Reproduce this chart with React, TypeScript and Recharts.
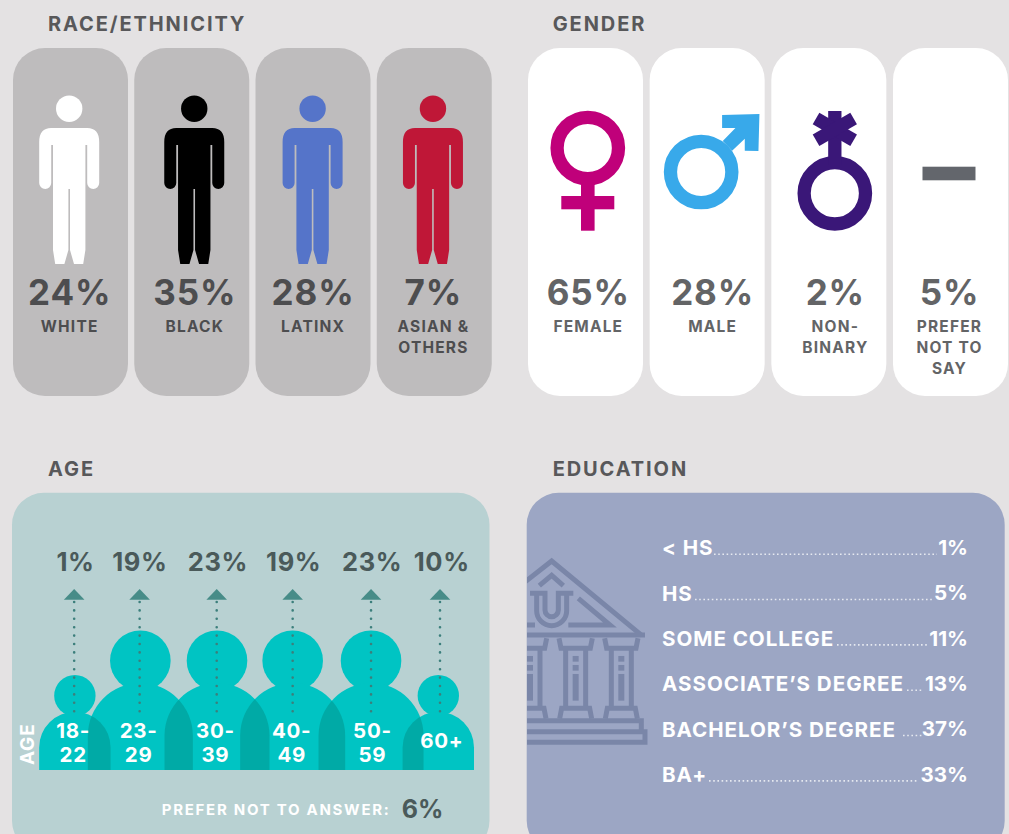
// App.tsx
import React from 'react';
import { BarChart, Bar, XAxis, YAxis } from 'recharts';

const raceCategories = ['WHITE', 'BLACK', 'LATINX', 'ASIAN &\nOTHERS'];
const raceShares = [24, 35, 28, 7];
const genderCategories = ['FEMALE', 'MALE', 'NON-\nBINARY', 'PREFER\nNOT TO\nSAY'];
const genderShares = [65, 28, 2, 5];
const ageCategories = ['18-\n22', '23-\n29', '30-\n39', '40-\n49', '50-\n59', '60+'];
const ageShares = [1, 19, 23, 19, 23, 10];
const agePreferNot = 6;
const educationCategories = ['< HS', 'HS', 'SOME COLLEGE', 'ASSOCIATE\u2019S DEGREE', 'BACHELOR\u2019S DEGREE', 'BA+'];
const educationShares = [1, 5, 11, 13, 37, 33];

const FONT = 'Inter, sans-serif';
const BG = '#e4e2e3';

// the artwork is not evenly spaced, these are small offsets from the band centres
const raceNudge = [-1.3, 2.5, -0.4, -1.3];
const raceColors = ['#ffffff', '#000000', '#5574c9', '#bf1737'];
const genderNudge = [2.3, 5, 6, -1.5];
const ageNudge = [-0.5, -7.7, -3.3, 0, 5.7, 2];
const domeShift = [0.7, 0.7, 0.3, 0, 0, -1.7];
const ageLabelShift = [-1, -1, -1.3, -1, 1.4, 1.7];
const agePctShift = [1.4, 0.2, 1.2, 1, 1.2, 1.7];
const leaderStart = [714, 695, 837, 907, 903, 709];
const leaderEnd = [937, 933, 928, 923, 923, 919];

const toRows = (names: string[], shares: number[]) => names.map((name, i) => ({ name, share: shares[i] }));

const Person = ({ cx, color }: any) => (
  <g transform={`translate(${cx},128)`} fill={color}>
    <circle cx={0} cy={-19.3} r={13.2} />
    <path d="M-18 0H18Q30 0 30 14V55A6 6 0 0 1 18 55V17H16.2V122L14 136H4.8L0.8 122V61H-0.8V122L-4.8 136H-14L-16.2 122V17H-18V55A6 6 0 0 1 -30 55V14Q-30 0 -18 0Z" />
  </g>
);

const CardText = ({ cx, share, name, color }: any) => (
  <g textAnchor="middle" fontFamily={FONT} fill={color}>
    <text x={cx + 0.5} y={305} fontSize={35} fontWeight={700} letterSpacing={0.9}>{share}%</text>
    {name.split('\n').map((line: string, i: number) => (
      <text key={line} x={cx + 0.5} y={332 + i * 21} fontSize={15.5} fontWeight={700} letterSpacing={1.2}>{line}</text>
    ))}
  </g>
);

const RaceCard = (props: any) => {
  const cx = props.x + props.width / 2 + raceNudge[props.index];
  return (
    <g transform="translate(0,-48)">
      <Person cx={cx} color={raceColors[props.index]} />
      <CardText cx={cx} share={props.payload.share} name={props.payload.name} color="#4d4d4f" />
    </g>
  );
};

const GenderIcon = ({ cx, index }: any) => {
  if (index === 0) {
    return (
      <g fill="#c0007a">
        <circle cx={cx} cy={148} r={30.7} fill="none" stroke="#c0007a" strokeWidth={13.3} />
        <rect x={cx - 6.8} y={180} width={13.6} height={50.7} />
        <rect x={cx - 26.5} y={196} width={53} height={13.3} />
      </g>
    );
  }
  if (index === 1) {
    return (
      <g>
        <circle cx={cx - 11} cy={172} r={30.7} fill="none" stroke="#38a9ea" strokeWidth={13.3} />
        <path
          transform={`translate(${cx - 202.7},0) scale(0.3333)`}
          fill="#38a9ea"
          d="M638 345L750 342L747 453L706 452L706 416L668 452L640 423L678 384L638 384Z"
        />
      </g>
    );
  }
  if (index === 2) {
    return (
      <g stroke="#3a1778" strokeWidth={13.3}>
        <circle cx={cx} cy={193.3} r={30.7} fill="none" />
        <line x1={cx} y1={111} x2={cx} y2={165} />
        <line x1={cx - 18.8} y1={118.5} x2={cx + 18.8} y2={140.2} />
        <line x1={cx + 18.8} y1={118.5} x2={cx - 18.8} y2={140.2} />
      </g>
    );
  }
  return <rect x={cx - 26.5} y={166.7} width={53} height={13.6} fill="#63666c" />;
};

const GenderCard = (props: any) => {
  const cx = props.x + props.width / 2 + genderNudge[props.index];
  return (
    <g transform="translate(0,-48)">
      <GenderIcon cx={cx} index={props.index} />
      <CardText cx={cx} share={props.payload.share} name={props.payload.name} color="#636466" />
    </g>
  );
};

// chart sits at x 12 / y 540, figures are drawn in page coordinates inside a group
const AGE_STEP = 72.66;
const AGE_BASE = 770;
const domePath = (cx: number, hw: number, top: number) =>
  `M${cx - hw} ${AGE_BASE}V${top + hw}A${hw} ${hw} 0 0 1 ${cx + hw} ${top + hw}V${AGE_BASE}Z`;
const figureSize = (share: number) =>
  share <= 10 ? { hw: 35.7, top: 711.7, headY: 695.7, headR: 20.7 } : { hw: 52.5, top: 683, headY: 660.7, headR: 30.3 };

const AgeFigure = (props: any) => {
  const i = props.index;
  const centre = props.x + props.width / 2 + 12;
  const cx = centre + ageNudge[i] + domeShift[i];
  const size = figureSize(props.payload.share);
  const own = domePath(cx, size.hw, size.top);
  let overlap = null;
  if (i > 0) {
    const prevSize = figureSize(ageShares[i - 1]);
    const prevX = centre - AGE_STEP + ageNudge[i - 1] + domeShift[i - 1];
    overlap = (
      <>
        <clipPath id={`age-clip-${i}`}>
          <path d={domePath(prevX, prevSize.hw, prevSize.top)} />
        </clipPath>
        <path d={own} fill="#00aaa6" clipPath={`url(#age-clip-${i})`} />
      </>
    );
  }
  return (
    <g transform="translate(-12,-540)">
      <circle cx={cx} cy={size.headY} r={size.headR} fill="#00c4c3" />
      <path d={own} fill="#00c4c3" />
      {overlap}
    </g>
  );
};

const AgeMarks = (props: any) => {
  const i = props.index;
  const centre = props.x + props.width / 2 + 12;
  const ax = centre + ageNudge[i];
  const lines = props.payload.name.split('\n');
  const lx = ax + ageLabelShift[i];
  return (
    <g transform="translate(-12,-540)" fontFamily={FONT} textAnchor="middle">
      <text x={ax + agePctShift[i]} y={570.7} fontSize={25.5} fontWeight={700} fill="#4a5a5a" letterSpacing={0.6}>{props.payload.share}%</text>
      <path d={`M${ax} 589L${ax + 10.3} 599.7H${ax - 10.3}Z`} fill="#478c88" />
      <line x1={ax} y1={602} x2={ax} y2={713} stroke="#3c7f7c" strokeWidth={2.6} strokeLinecap="round" strokeDasharray="0 8.4" />
      {lines.length === 1 ? (
        <text x={lx} y={748.3} fontSize={20.5} fontWeight={700} fill="#ffffff" letterSpacing={0.7}>{lines[0]}</text>
      ) : (
        <>
          <text x={lx} y={737.5} fontSize={20.5} fontWeight={700} fill="#ffffff" letterSpacing={0.7}>{lines[0]}</text>
          <text x={lx} y={762} fontSize={20.5} fontWeight={700} fill="#ffffff" letterSpacing={0.7}>{lines[1]}</text>
        </>
      )}
    </g>
  );
};

const EducationTick = (props: any) => (
  <text x={135} y={props.y + 7.5} fontFamily={FONT} fontSize={20.6} fontWeight={700} fill="#ffffff" letterSpacing={0.95}>
    {props.payload.value}
  </text>
);

const EducationLeader = (props: any) => {
  const i = props.index;
  const base = props.y + props.height / 2 + 7.5;
  return (
    <g>
      <line
        x1={leaderStart[i] - 527}
        x2={leaderEnd[i] - 527}
        y1={base - 0.8}
        y2={base - 0.8}
        stroke="#ffffff"
        strokeOpacity={0.75}
        strokeWidth={1.6}
        strokeDasharray="1.6 2.6"
      />
      <text x={441} y={base} textAnchor="end" fontFamily={FONT} fontSize={20.6} fontWeight={700} fill="#ffffff">
        {props.payload.share}%
      </text>
    </g>
  );
};

const columnCentres = [60, 197, 334];

const Building = () => (
  <g transform="translate(-17,-75) scale(0.3333)" fill="none" stroke="#7a86a8" strokeWidth={15}>
    <path d="M40 400L125 333L395 556" />
    <path d="M88 407L125 376L160 407" />
    <path d="M60 430H105V480A20 20 0 0 0 145 480V430H190" />
    <path d="M80 435V482A45 45 0 0 0 170 482V435" />
    <path d="M205 445L300 525H175" />
    <path d="M40 525H75" />
    <path d="M40 555H405" />
    {columnCentres.map((c) => (
      <g key={c}>
        <path d={`M${c - 50} 565L${c - 44} 595H${c + 44}L${c + 50} 565`} />
        <path d={`M${c - 30} 600V770M${c + 30} 600V770`} />
        <rect x={c - 9} y={618} width={18} height={17} fill="#7a86a8" stroke="none" />
        <rect x={c - 9} y={645} width={18} height={17} fill="#7a86a8" stroke="none" />
        <rect x={c - 9} y={672} width={18} height={80} fill="#7a86a8" stroke="none" />
        <path d={`M${c - 48} 806L${c - 42} 775H${c + 42}L${c + 48} 806`} />
      </g>
    ))}
    <path d="M40 812H394V845" />
    <path d="M40 845H405V877H40" />
  </g>
);

export default function App() {
  const raceData = toRows(raceCategories, raceShares);
  const genderData = toRows(genderCategories, genderShares);
  const ageData = toRows(ageCategories, ageShares);
  const educationData = toRows(educationCategories, educationShares);

  return (
    <div style={{ position: 'fixed', left: 0, top: 0, width: 1009, height: 834, overflow: 'hidden', background: BG }}>
      <svg width={1009} height={834} style={{ position: 'absolute', left: 0, top: 0 }}>
        <rect x={12} y={492.7} width={477.5} height={360} rx={32} fill="#b8d1d2" />
        <rect x={526.7} y={492.7} width={478} height={360} rx={32} fill="#9ca6c4" />
        <g fontFamily={FONT} fontSize={20} fontWeight={700} fill="#58585a" letterSpacing={1.9}>
          <text x={48} y={31}>RACE/ETHNICITY</text>
          <text x={552.7} y={31}>GENDER</text>
          <text x={48} y={475.7}>AGE</text>
          <text x={552.7} y={475.7}>EDUCATION</text>
        </g>
      </svg>

      <div style={{ position: 'absolute', left: 10, top: 48 }}>
        <BarChart width={485} height={348} data={raceData} margin={{ top: 0, right: 0, bottom: 0, left: 0 }}>
          <XAxis dataKey="name" hide />
          <YAxis hide domain={[0, 100]} />
          <Bar
            dataKey="share"
            barSize={115}
            background={{ fill: '#bebcbd', radius: 32 }}
            shape={RaceCard}
            isAnimationActive={false}
          />
        </BarChart>
      </div>

      <div style={{ position: 'absolute', left: 525.3, top: 48 }}>
        <BarChart width={486.67} height={348} data={genderData} margin={{ top: 0, right: 0, bottom: 0, left: 0 }}>
          <XAxis dataKey="name" hide />
          <YAxis hide domain={[0, 100]} />
          <Bar
            dataKey="share"
            barSize={115}
            background={{ fill: '#ffffff', radius: 32 }}
            shape={GenderCard}
            isAnimationActive={false}
          />
        </BarChart>
      </div>

      <div style={{ position: 'absolute', left: 12, top: 540 }}>
        <BarChart width={477.5} height={294} data={ageData} margin={{ top: 0, right: 14.83, bottom: 0, left: 26.67 }}>
          <XAxis dataKey="name" hide />
          <YAxis hide domain={[0, 100]} />
          <Bar dataKey="share" stackId="age" barSize={70} shape={AgeFigure} isAnimationActive={false} />
          <Bar dataKey="share" stackId="age" barSize={70} shape={AgeMarks} isAnimationActive={false} />
          <text
            transform="translate(22.3,204.3) rotate(-90)"
            textAnchor="middle"
            fontFamily={FONT}
            fontSize={19}
            fontWeight={700}
            fill="#ffffff"
            letterSpacing={0.8}
          >
            AGE
          </text>
          <text x={149.7} y={275.3} fontFamily={FONT} fontSize={15} fontWeight={700} fill="#ffffff" letterSpacing={1.72}>
            PREFER NOT TO ANSWER:
          </text>
          <text x={389.7} y={278.3} fontFamily={FONT} fontSize={25} fontWeight={700} fill="#4a5a5a">
            {agePreferNot}%
          </text>
        </BarChart>
      </div>

      <div style={{ position: 'absolute', left: 527, top: 525 }}>
        <BarChart
          width={478}
          height={272}
          layout="vertical"
          data={educationData}
          margin={{ top: 0, right: 37.7, bottom: 0, left: 0 }}
        >
          <Building />
          <XAxis type="number" hide domain={[0, 100]} />
          <YAxis
            type="category"
            dataKey="name"
            width={135}
            axisLine={false}
            tickLine={false}
            interval={0}
            tick={EducationTick}
          />
          <Bar dataKey="share" shape={EducationLeader} isAnimationActive={false} />
        </BarChart>
      </div>
    </div>
  );
}
